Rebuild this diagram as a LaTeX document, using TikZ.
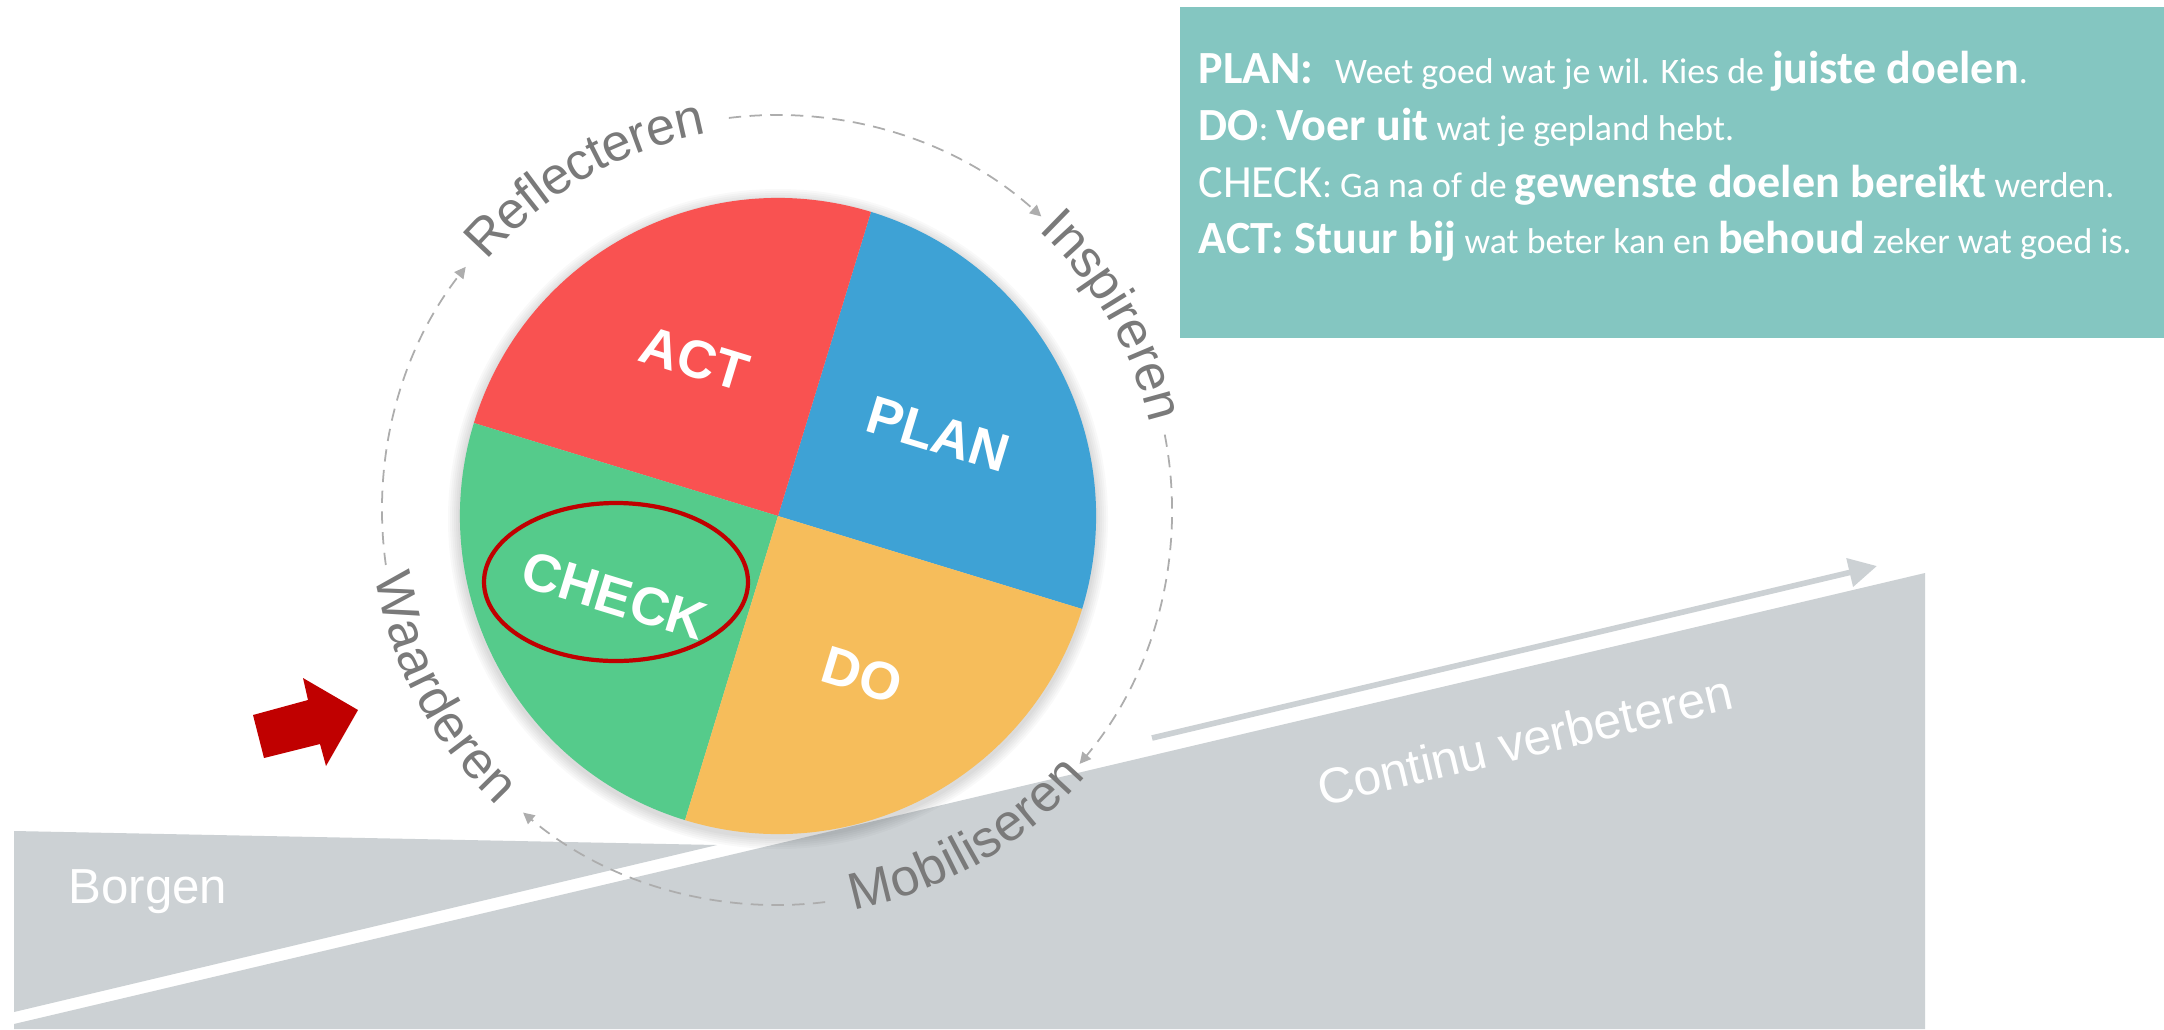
\documentclass[tikz,border=0pt]{standalone}
\usepackage{fontspec}
\setmainfont{Liberation Sans}
\newfontfamily\notefont{Carlito}
\usetikzlibrary{arrows.meta}
\usetikzlibrary{calc}
\usetikzlibrary{decorations.text}

\definecolor{actred}{HTML}{F95251}
\definecolor{planblue}{HTML}{3EA2D5}
\definecolor{checkgreen}{HTML}{55CB8B}
\definecolor{doorange}{HTML}{F6BD5B}
\definecolor{noteteal}{HTML}{84C6C1}
\definecolor{slopegray}{HTML}{CCD1D4}
\definecolor{ringgray}{HTML}{ADADAD}
\definecolor{wordgray}{HTML}{7A7A7A}
\definecolor{markred}{HTML}{C00000}

\newcommand\notebf[1]{{\fontsize{13.1}{15}\selectfont\bfseries #1}}
\newcommand\notebig[1]{{\fontsize{13.1}{15}\selectfont #1}}

\tikzset{
  % style for the white words inside the wheel
  pie label/.style={text=white,font=\fontsize{15.2}{18}\selectfont\bfseries,rotate=-17,inner sep=0pt},
  % style for the dashed ring, with a small tip at the end
  ring arc/.style={draw=ringgray,line width=0.5pt,dash pattern=on 3.5pt off 2.4pt,
    -{Triangle[length=3.2pt,width=3.2pt]}},
  % style to write a word along the ring
  ring word/.style 2 args={decorate,decoration={text along path,text align=center,raise=#2,
      text={|\fontsize{14.8}{17}\selectfont\color{wordgray}|#1}}},
  % style for the lines in the note box
  note line/.style={anchor=base west,inner sep=0pt,text=white,
    font=\notefont\fontsize{10.2}{13}\selectfont},
}

\begin{document}
\begin{tikzpicture}[x=0.01cm,y=0.01cm]
\path[fill=white] (0,0) rectangle (2164,1029);
\useasboundingbox (0,0) rectangle (2164,1029);
\coordinate (C) at (778,513);
\coordinate (R) at (777,519);
% ground
\path[fill=slopegray] (14,0) -- (14,5) -- (1925,456) -- (1925,0) -- cycle;
\path[fill=slopegray] (14,198) -- (717,184) -- (14,17) -- cycle;
\node[text=white,font=\fontsize{14}{16}\selectfont] (borgen) at (148,137) {Borgen};
\node[text=white,font=\fontsize{14.2}{17}\selectfont,rotate=13.3] (continu) at (1525,289) {Continu verbeteren};
\coordinate (up0) at (1152,291);
\coordinate (up1) at (1877,463);
\draw[slopegray,line width=1.6pt,-{Triangle[length=8pt,width=8pt]}] (up0) -- (up1);
% wheel
\begin{scope}
  \foreach \k in {1,...,6}
    \path[fill=black,opacity=0.025] ($(C)+(0,-3)$) circle[radius=318+2*\k];
  \foreach \a/\c in {-17/planblue,73/actred,163/checkgreen,253/doorange}
    \path[fill=\c] (C) -- ($(C)+(\a:318)$) arc[start angle=\a,delta angle=90,radius=318] -- cycle;
\end{scope}
\node[pie label] (plan) at ($(C)+(27:180)$) {PLAN};
\node[pie label] (act) at ($(C)+(118:178)$) {ACT};
\node[pie label] (check) at ($(C)+(206:182)$) {CHECK};
\node[pie label] (do) at ($(C)+(298:180)$) {DO};
\path[draw=markred,line width=1.2pt] (616,447) ellipse[x radius=132,y radius=79];
% ring
\foreach \s/\e in {188/142,97/48,11/-40,-83/-130}
  \path[ring arc] ($(R)+(\s:395)$) arc[start angle=\s,end angle=\e,radius=395];
\path[ring word={Reflecteren}{-3.5pt}] ($(R)+(160:395)$) arc[start angle=160,end angle=80,radius=395];
\path[ring word={Inspireren}{-3.5pt}] ($(R)+(70:395)$) arc[start angle=70,end angle=-10,radius=395];
\path[ring word={Mobiliseren}{-3.5pt}] ($(R)+(-100:395)$) arc[start angle=-100,end angle=-20,radius=395];
\path[ring word={Waarderen}{-3.5pt}] ($(R)+(168:395)$) arc[start angle=168,end angle=248,radius=395];
% red arrow
\path[fill=markred] (253,314) -- (308,329) -- (303,351) -- (358,319) -- (326,263) -- (320,285) -- (264,271) -- cycle;
% note box
\path[fill=noteteal] (1180,691) rectangle (2164,1022);
\node[note line] (planline) at (1198,946) {\notebf{PLAN:}\hspace{.6em}Weet goed wat je wil. Kies de \notebf{juiste doelen}.};
\node[note line] (doline) at (1198,889) {\notebf{DO}: \notebf{Voer uit} wat je gepland hebt.};
\node[note line] (checkline) at (1198,832) {\notebig{CHECK}: Ga na of de \notebf{gewenste doelen bereikt} werden.};
\node[note line] (actline) at (1198,776) {\notebf{ACT: Stuur bij} wat beter kan en \notebf{behoud} zeker wat goed is.};
\end{tikzpicture}
\end{document}
